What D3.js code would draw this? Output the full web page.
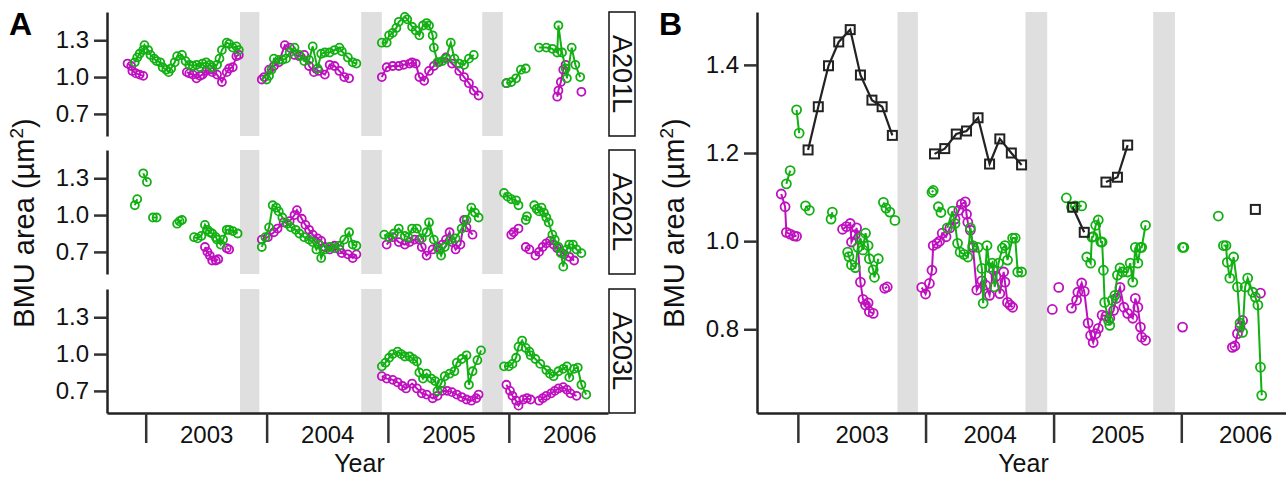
<!DOCTYPE html>
<html>
<head>
<meta charset="utf-8">
<script src="https://cdn.jsdelivr.net/npm/d3@7"></script>
<style>
body { margin: 0; background: #fff; }
svg { font-family: "Liberation Sans", Arial, sans-serif; }
</style>
</head>
<body>
<svg width="1286" height="477"></svg>
<script>
// times are decimal years, null breaks a line
const years = [2003, 2004, 2005, 2006];
const gaps = [[2003.78, 2003.94], [2004.78, 2004.95], [2005.78, 2005.95]];
const facets = ['A201L', 'A202L', 'A203L'];
const ticksA = [0.7, 1.0, 1.3];
const ticksB = [0.8, 1.0, 1.2, 1.4];

const a201_mag = [
  [2002.85,1.11],[2002.88,1.09],[2002.89,1.05],[2002.92,1.03],[2002.95,1.02],[2002.98,1.01], null,
  [2003.34,1.04],[2003.36,1.03],[2003.39,1.02],[2003.42,0.99],[2003.45,1.01],[2003.47,1.02],[2003.50,1.05],[2003.53,1.06],[2003.55,1.04],[2003.59,1.02],[2003.63,0.96],[2003.67,1.04],[2003.69,1.07],[2003.72,1.08],[2003.75,1.17],[2003.77,1.18], null,
  [2003.96,0.98],[2003.98,1.00],[2004.02,1.06],[2004.06,1.09],[2004.10,1.12],[2004.15,1.26],[2004.19,1.24],[2004.23,1.18],[2004.27,1.17],[2004.31,1.18],[2004.35,1.09],[2004.39,1.04],[2004.43,1.05],[2004.48,1.02],[2004.52,1.10],[2004.56,1.09],[2004.60,1.05],[2004.64,1.00],[2004.68,0.99], null,
  [2004.95,1.00],[2004.99,1.08],[2005.04,1.09],[2005.09,1.09],[2005.13,1.10],[2005.18,1.11],[2005.20,1.12],[2005.23,1.11],[2005.26,1.00],[2005.30,0.97],[2005.34,1.05],[2005.38,1.09],[2005.42,1.12],[2005.48,1.16],[2005.53,1.11],[2005.59,1.05],[2005.63,1.00],[2005.67,0.95],[2005.71,0.89],[2005.75,0.85], null,
  [2005.98,0.95], null, [2006.40,0.84],[2006.41,0.89],[2006.43,0.96],[2006.45,1.06],[2006.47,1.10], null, [2006.60,0.88]
];
const a201_grn = [
  [2002.91,1.12],[2002.93,1.16],[2002.95,1.19],[2002.98,1.22],[2002.99,1.26],[2003.02,1.22],[2003.04,1.18],[2003.07,1.15],[2003.09,1.13],[2003.12,1.12],[2003.14,1.08],[2003.17,1.06],[2003.19,1.04],[2003.21,1.07],[2003.24,1.12],[2003.26,1.17],[2003.30,1.18],[2003.33,1.13],[2003.36,1.10],[2003.39,1.09],[2003.42,1.10],[2003.45,1.08],[2003.47,1.11],[2003.50,1.12],[2003.53,1.10],[2003.55,1.08],[2003.59,1.10],[2003.61,1.15],[2003.63,1.22],[2003.67,1.28],[2003.69,1.27],[2003.72,1.24],[2003.75,1.25],[2003.77,1.22], null,
  [2004.00,0.98],[2004.02,1.01],[2004.04,1.06],[2004.06,1.15],[2004.10,1.14],[2004.13,1.14],[2004.16,1.15],[2004.19,1.20],[2004.23,1.24],[2004.27,1.18],[2004.31,1.13],[2004.35,1.14],[2004.38,1.25],[2004.42,1.07],[2004.45,1.19],[2004.48,1.20],[2004.52,1.20],[2004.56,1.22],[2004.60,1.24],[2004.62,1.21],[2004.67,1.16],[2004.71,1.12],[2004.74,1.11], null,
  [2004.95,1.28],[2004.99,1.28],[2005.01,1.34],[2005.04,1.36],[2005.07,1.40],[2005.09,1.45],[2005.14,1.49],[2005.16,1.47],[2005.20,1.41],[2005.23,1.38],[2005.26,1.34],[2005.29,1.42],[2005.32,1.44],[2005.34,1.42],[2005.37,1.34],[2005.38,1.24],[2005.41,1.12],[2005.45,1.13],[2005.48,1.15],[2005.52,1.28],[2005.55,1.15],[2005.59,1.11],[2005.63,1.10],[2005.67,1.15],[2005.71,1.18], null,
  [2005.98,0.95],[2006.02,0.96],[2006.06,0.99],[2006.10,1.06],[2006.14,1.07], null,
  [2006.25,1.24],[2006.31,1.24],[2006.36,1.23],[2006.40,1.20],[2006.41,1.42],[2006.44,1.20],[2006.47,1.07],[2006.48,0.99],[2006.52,1.24],[2006.55,1.10],[2006.59,1.00]
];

const a202_mag = [
  [2003.49,0.74],[2003.51,0.70],[2003.53,0.67],[2003.55,0.63],[2003.58,0.63],[2003.60,0.64], null, [2003.67,0.73],[2003.69,0.72], null,
  [2003.96,0.80],[2004.01,0.82],[2004.06,0.86],[2004.09,0.89],[2004.14,0.94],[2004.19,0.95],[2004.23,1.00],[2004.25,1.04],[2004.29,0.97],[2004.32,0.92],[2004.35,0.88],[2004.38,0.84],[2004.42,0.81],[2004.45,0.79],[2004.48,0.74],[2004.52,0.72],[2004.56,0.75],[2004.60,0.72],[2004.62,0.69],[2004.67,0.68],[2004.71,0.65],[2004.74,0.68], null,
  [2004.99,0.76],[2005.04,0.82],[2005.09,0.78],[2005.14,0.76],[2005.18,0.78],[2005.22,0.80],[2005.26,0.80],[2005.28,0.74],[2005.32,0.67],[2005.37,0.72],[2005.41,0.74],[2005.45,0.76],[2005.48,0.80],[2005.51,0.86],[2005.53,0.78],[2005.56,0.72],[2005.60,0.76],[2005.63,0.96],[2005.65,0.90],[2005.70,0.84], null,
  [2006.02,0.84],[2006.04,0.86],[2006.08,0.89], null, [2006.14,0.74],[2006.17,0.72], null,
  [2006.22,0.67],[2006.25,0.70],[2006.28,0.74],[2006.31,0.77],[2006.34,0.79],[2006.37,0.76],[2006.40,0.73],[2006.43,0.70],[2006.46,0.68],[2006.50,0.66],[2006.54,0.63]
];
const a202_grn = [
  [2002.91,1.08],[2002.93,1.13], null, [2002.98,1.34],[2003.01,1.27], null, [2003.06,0.98],[2003.09,0.98], null, [2003.26,0.93],[2003.28,0.95],[2003.30,0.96], null,
  [2003.40,0.82],[2003.43,0.81],[2003.46,0.83],[2003.49,0.92],[2003.51,0.88],[2003.53,0.86],[2003.55,0.85],[2003.58,0.82],[2003.59,0.80],[2003.62,0.76],[2003.64,0.80],[2003.67,0.88],[2003.69,0.88],[2003.72,0.87],[2003.76,0.85], null,
  [2003.96,0.74],[2003.99,0.82],[2004.02,0.90],[2004.05,1.08],[2004.08,1.06],[2004.10,1.03],[2004.13,0.98],[2004.17,0.93],[2004.20,0.90],[2004.24,0.88],[2004.27,0.85],[2004.31,0.82],[2004.35,0.80],[2004.38,0.78],[2004.41,0.72],[2004.43,0.76],[2004.45,0.65],[2004.48,0.72],[2004.52,0.74],[2004.56,0.73],[2004.60,0.75],[2004.64,0.80],[2004.68,0.86],[2004.71,0.76],[2004.74,0.75], null,
  [2004.97,0.84],[2005.01,0.82],[2005.05,0.85],[2005.09,0.89],[2005.14,0.83],[2005.17,0.82],[2005.20,0.89],[2005.24,0.89],[2005.28,0.81],[2005.32,0.86],[2005.34,0.94],[2005.38,0.80],[2005.42,0.72],[2005.44,0.67],[2005.47,0.74],[2005.52,0.80],[2005.56,0.81],[2005.61,0.89],[2005.65,0.96],[2005.69,1.06],[2005.72,1.02],[2005.75,0.98], null,
  [2005.96,1.18],[2005.99,1.15],[2006.02,1.13],[2006.06,1.12],[2006.08,1.08], null, [2006.14,0.96],[2006.15,0.99], null,
  [2006.21,1.08],[2006.23,1.05],[2006.25,1.03],[2006.27,1.06],[2006.29,1.02],[2006.31,0.98],[2006.33,0.94],[2006.36,0.84],[2006.38,0.80],[2006.41,0.74],[2006.43,0.69],[2006.45,0.58],[2006.48,0.72],[2006.50,0.76],[2006.53,0.76],[2006.56,0.72],[2006.60,0.69]
];

const a203_mag = [
  [2004.95,0.82],[2004.99,0.80],[2005.04,0.79],[2005.08,0.77],[2005.12,0.74],[2005.15,0.72],[2005.20,0.76],[2005.24,0.72],[2005.28,0.68],[2005.32,0.67],[2005.37,0.64],[2005.41,0.66],[2005.45,0.70],[2005.49,0.70],[2005.53,0.69],[2005.57,0.67],[2005.61,0.65],[2005.65,0.63],[2005.69,0.62],[2005.73,0.64],[2005.75,0.67], null,
  [2005.98,0.75],[2006.01,0.70],[2006.03,0.66],[2006.06,0.62],[2006.08,0.58],[2006.12,0.63],[2006.15,0.64],[2006.18,0.63], null,
  [2006.25,0.62],[2006.28,0.64],[2006.31,0.66],[2006.35,0.68],[2006.38,0.70],[2006.41,0.72],[2006.45,0.73],[2006.48,0.71],[2006.51,0.68],[2006.56,0.66]
];
const a203_grn = [
  [2004.95,0.90],[2004.98,0.93],[2005.01,0.97],[2005.04,1.00],[2005.08,1.02],[2005.11,1.00],[2005.14,0.98],[2005.18,0.98],[2005.21,0.96],[2005.24,0.94],[2005.26,0.85],[2005.29,0.80],[2005.32,0.84],[2005.36,0.80],[2005.39,0.78],[2005.41,0.70],[2005.44,0.76],[2005.47,0.82],[2005.51,0.84],[2005.55,0.86],[2005.57,0.93],[2005.61,0.96],[2005.65,0.99],[2005.67,0.75],[2005.70,0.86],[2005.74,0.95],[2005.77,1.03], null,
  [2005.96,0.90],[2006.00,0.90],[2006.03,0.92],[2006.06,0.97],[2006.08,1.06],[2006.11,1.11],[2006.14,1.05],[2006.17,1.02],[2006.18,0.99],[2006.22,0.96],[2006.26,0.92],[2006.31,0.87],[2006.34,0.84],[2006.37,0.82],[2006.41,0.86],[2006.45,0.88],[2006.48,0.90],[2006.50,0.81],[2006.54,0.88],[2006.57,0.89],[2006.60,0.75],[2006.64,0.67]
];

const b_mag = [
  [2002.87,1.107],[2002.90,1.078],[2002.91,1.020],[2002.94,1.016],[2002.97,1.012],[2002.99,1.011], null,
  [2003.35,1.027],[2003.38,1.033],[2003.41,1.040],[2003.42,0.998],[2003.45,1.015],[2003.46,1.030],[2003.49,0.907],[2003.51,0.868],[2003.53,0.855],[2003.55,0.860],[2003.56,0.840],[2003.59,0.836], null,
  [2003.68,0.893],[2003.70,0.896], null,
  [2003.97,0.895],[2004.00,0.880],[2004.03,0.904],[2004.05,0.934],[2004.06,0.990],[2004.09,0.995],[2004.11,1.000],[2004.13,1.018],[2004.16,1.010],[2004.19,1.030],[2004.23,1.050],[2004.26,1.070],[2004.28,1.084],[2004.31,1.089],[2004.32,1.061],[2004.33,1.043],[2004.35,1.025],[2004.37,0.986],[2004.40,0.889],[2004.44,0.910],[2004.47,0.900],[2004.50,0.877],[2004.53,0.934],[2004.55,0.920],[2004.58,0.881],[2004.61,0.930],[2004.62,0.907],[2004.64,0.861],[2004.66,0.855],[2004.68,0.850], null,
  [2004.99,0.845], null, [2005.04,0.895], null,
  [2005.14,0.848],[2005.18,0.866],[2005.19,0.884],[2005.22,0.905],[2005.24,0.886],[2005.27,0.814],[2005.29,0.786],[2005.31,0.770],[2005.33,0.790],[2005.35,0.802],[2005.38,0.832],[2005.41,0.830],[2005.44,0.825],[2005.47,0.843],[2005.49,0.870],[2005.52,0.895],[2005.55,0.850],[2005.58,0.836],[2005.62,0.825],[2005.64,0.870],[2005.66,0.850],[2005.68,0.805],[2005.69,0.782],[2005.72,0.775], null,
  [2006.01,0.805], null, [2006.40,0.759],[2006.42,0.762],[2006.44,0.790],[2006.46,0.805],[2006.48,0.820], null, [2006.62,0.882]
];
const b_grn = [
  [2002.91,1.130],[2002.94,1.160], null, [2002.99,1.298],[2003.01,1.245], null, [2003.06,1.080],[2003.09,1.070], null, [2003.26,1.050],[2003.27,1.066], null,
  [2003.39,0.975],[2003.40,0.965],[2003.42,0.946],[2003.45,0.940],[2003.47,0.986],[2003.49,1.007],[2003.51,0.980],[2003.53,1.018],[2003.55,0.990],[2003.56,0.960],[2003.59,0.935],[2003.60,0.918],[2003.63,0.960], null,
  [2003.67,1.088],[2003.69,1.075],[2003.72,1.066], null, [2003.76,1.047], null,
  [2004.05,1.111],[2004.06,1.115], null, [2004.10,1.078],[2004.12,1.065], null,
  [2004.17,1.030],[2004.21,1.068],[2004.23,1.040],[2004.25,0.995],[2004.27,0.975],[2004.30,0.970],[2004.33,0.964],[2004.35,1.030],[2004.37,0.990],[2004.41,0.986],[2004.44,0.938],[2004.45,0.859],[2004.48,0.990],[2004.50,0.940],[2004.52,0.950],[2004.54,0.896],[2004.57,0.950],[2004.60,0.984],[2004.62,0.990],[2004.64,0.957],[2004.68,1.007],[2004.70,1.007],[2004.72,0.930],[2004.75,0.930], null,
  [2005.10,1.098], null, [2005.14,1.077],[2005.17,1.080],[2005.22,1.080], null,
  [2005.26,0.964],[2005.29,0.950],[2005.30,1.009],[2005.31,1.010],[2005.33,1.036],[2005.35,1.048],[2005.37,0.998],[2005.38,0.998],[2005.39,0.934],[2005.40,0.861],[2005.43,0.820],[2005.44,0.809],[2005.46,0.866],[2005.48,0.877],[2005.50,0.923],[2005.52,0.939],[2005.54,0.930],[2005.58,0.930],[2005.60,0.950],[2005.62,0.907],[2005.64,0.986],[2005.66,0.950],[2005.68,0.986],[2005.69,0.986],[2005.72,1.036], null,
  [2006.01,0.986],[2006.02,0.986], null, [2006.29,1.057], null,
  [2006.33,0.990],[2006.35,0.990],[2006.36,0.952],[2006.38,0.916],[2006.41,0.964],[2006.44,0.896],[2006.46,0.814],[2006.48,0.793],[2006.50,0.896],[2006.52,0.916],[2006.56,0.884],[2006.58,0.873],[2006.60,0.855],[2006.62,0.714],[2006.63,0.650]
];
const b_blk = [
  [2003.08,1.207],[2003.16,1.305],[2003.24,1.398],[2003.32,1.452],[2003.41,1.480],[2003.49,1.377],[2003.58,1.320],[2003.66,1.305],[2003.74,1.240], null,
  [2004.07,1.198],[2004.15,1.210],[2004.24,1.243],[2004.32,1.250],[2004.41,1.280],[2004.50,1.175],[2004.58,1.232],[2004.67,1.200],[2004.75,1.173], null,
  [2005.15,1.077],[2005.24,1.020], null, [2005.41,1.134],[2005.50,1.145],[2005.58,1.218], null,
  [2006.58,1.072]
];

const seriesA = [[a201_mag, a201_grn], [a202_mag, a202_grn], [a203_mag, a203_grn]];

const MAG = '#bf10bf', GRN = '#12b012', INK = '#222';

const toDate = y => {
  const yr = Math.floor(y);
  const s = new Date(yr, 0, 1), e = new Date(yr + 1, 0, 1);
  return new Date(+s + (y - yr) * (e - s));
};

const svg = d3.select('svg');
const dom = [toDate(2002.68), toDate(2006.82)];
const axisBottom = 413;

function xAxes(g, x, left, right) {
  g.append('g')
    .attr('transform', `translate(0,${axisBottom})`)
    .call(d3.axisBottom(x).tickValues(years.map(y => toDate(y))).tickSize(30).tickSizeOuter(0).tickFormat(''))
    .call(a => { a.selectAll('line').attr('stroke', '#333').attr('stroke-width', 2.5); a.select('.domain').attr('stroke', INK).attr('stroke-width', 2.5); });
  g.append('g')
    .attr('transform', `translate(0,${axisBottom})`)
    .call(d3.axisBottom(x).tickValues(years.map(y => toDate(y + 0.5))).tickSize(0).tickPadding(13).tickFormat(d3.timeFormat('%Y')))
    .call(a => { a.select('.domain').remove(); a.selectAll('text').attr('font-size', 24).attr('fill', '#111').attr('font-family', null); });
  g.append('text').text('Year')
    .attr('x', (left + right) / 2 + 2).attr('y', 472)
    .attr('text-anchor', 'middle').attr('font-size', 25).attr('fill', '#111');
}

function yAxis(g, y, ticks, x0) {
  g.append('g')
    .attr('transform', `translate(${x0},0)`)
    .call(d3.axisLeft(y).tickValues(ticks).tickFormat(d3.format('.1f')).tickSize(13).tickSizeOuter(0).tickPadding(5))
    .call(a => {
      a.selectAll('line').attr('stroke', '#333').attr('stroke-width', 2.5);
      a.select('.domain').attr('stroke', INK).attr('stroke-width', 2.5);
      a.selectAll('text').attr('font-size', 24).attr('fill', '#111').attr('font-family', null);
    });
}

function yTitle(g, x, y) {
  const t = g.append('text')
    .attr('transform', `translate(${x},${y}) rotate(-90)`)
    .attr('text-anchor', 'middle').attr('font-size', 29).attr('fill', '#111');
  t.append('tspan').text('BMU area (µm');
  t.append('tspan').text('2').attr('font-size', 19).attr('dy', -11);
  t.append('tspan').text(')').attr('dy', 11);
}

function drawSeries(g, data, x, y, color, r) {
  const line = d3.line().defined(d => d).x(d => x(toDate(d[0]))).y(d => y(d[1]));
  g.append('path').attr('d', line(data)).attr('fill', 'none')
    .attr('stroke', color).attr('stroke-width', 2);
  g.selectAll(null).data(data.filter(d => d)).join('circle')
    .attr('cx', d => x(toDate(d[0]))).attr('cy', d => y(d[1])).attr('r', r)
    .attr('fill', 'none').attr('stroke', color).attr('stroke-width', 1.8);
}

// ---------- panel A ----------
const xA = d3.scaleTime().domain(dom).range([107, 608]);
const facetTop = [12, 150, 289], facetH = 124;
const gA = svg.append('g');

facets.forEach((name, i) => {
  const top = facetTop[i], bot = top + facetH;
  const y = d3.scaleLinear().domain([0.52, 1.53]).range([bot, top]);
  const g = gA.append('g');
  g.selectAll(null).data(gaps).join('rect')
    .attr('x', d => xA(toDate(d[0]))).attr('width', d => xA(toDate(d[1])) - xA(toDate(d[0])))
    .attr('y', top).attr('height', facetH).attr('fill', '#dfdfdf');
  drawSeries(g, seriesA[i][0], xA, y, MAG, 4);
  drawSeries(g, seriesA[i][1], xA, y, GRN, 4);
  yAxis(g, y, ticksA, 107);
  // strip label
  g.append('rect').attr('x', 609).attr('y', top).attr('width', 26).attr('height', facetH)
    .attr('fill', '#fff').attr('stroke', '#111').attr('stroke-width', 1.5);
  g.append('text').text(name)
    .attr('transform', `translate(613,${top + facetH / 2}) rotate(90)`)
    .attr('text-anchor', 'middle').attr('font-size', 27).attr('fill', '#111');
});
xAxes(gA, xA, 107, 608);
yTitle(gA, 34, 223);
gA.append('text').text('A').attr('x', 9).attr('y', 35)
  .attr('font-size', 32).attr('font-weight', 'bold').attr('fill', '#000');

// ---------- panel B ----------
const xB = d3.scaleTime().domain(dom).range([757, 1286]);
const yB = d3.scaleLinear().domain([0.61, 1.52]).range([axisBottom, 12]);
const gB = svg.append('g');
gB.selectAll(null).data(gaps).join('rect')
  .attr('x', d => xB(toDate(d[0]))).attr('width', d => xB(toDate(d[1])) - xB(toDate(d[0])))
  .attr('y', 12).attr('height', axisBottom - 12).attr('fill', '#dfdfdf');
drawSeries(gB, b_mag, xB, yB, MAG, 4.5);
drawSeries(gB, b_grn, xB, yB, GRN, 4.5);

const blkLine = d3.line().defined(d => d).x(d => xB(toDate(d[0]))).y(d => yB(d[1]));
gB.append('path').attr('d', blkLine(b_blk)).attr('fill', 'none').attr('stroke', INK).attr('stroke-width', 2.2);
gB.selectAll(null).data(b_blk.filter(d => d)).join('rect')
  .attr('x', d => xB(toDate(d[0])) - 4.5).attr('y', d => yB(d[1]) - 4.5)
  .attr('width', 9).attr('height', 9)
  .attr('fill', 'none').attr('stroke', INK).attr('stroke-width', 2);

yAxis(gB, yB, ticksB, 757);
xAxes(gB, xB, 757, 1286);
yTitle(gB, 684, 223);
gB.append('text').text('B').attr('x', 659).attr('y', 35)
  .attr('font-size', 32).attr('font-weight', 'bold').attr('fill', '#000');
</script>
</body>
</html>
